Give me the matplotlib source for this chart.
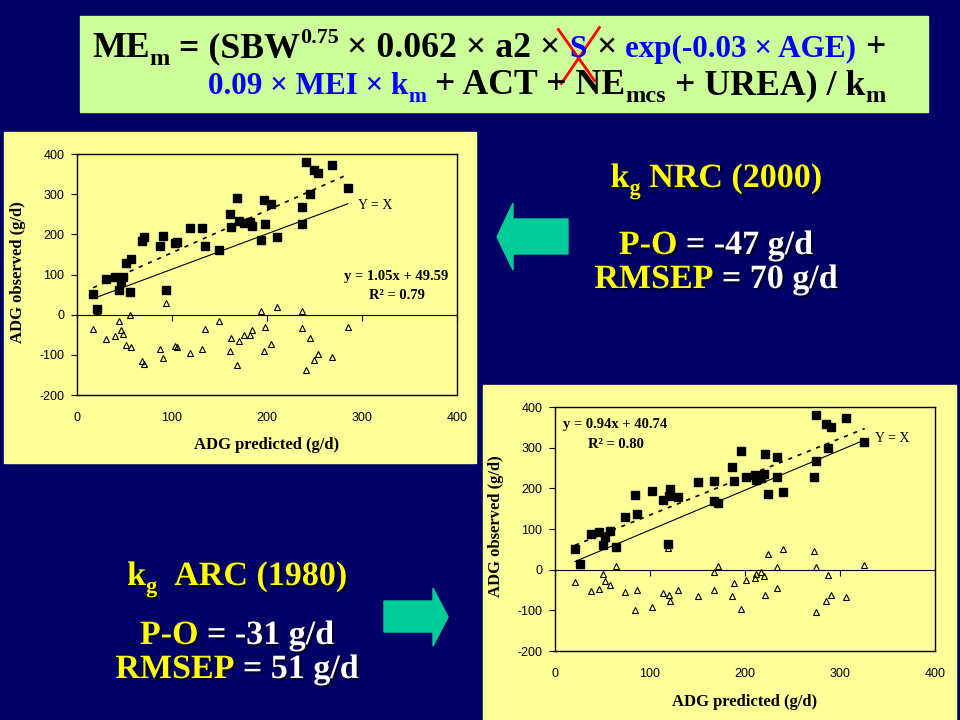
import matplotlib
matplotlib.use("Agg")
import matplotlib.pyplot as plt
import matplotlib.patheffects as pe
from matplotlib.patches import Rectangle, Polygon

plt.rcParams["axes.unicode_minus"] = False

W, H = 960, 720
NAVY = "#000066"
PANEL = "#FFFF99"
BOX = "#CCFF99"
ARROW = "#00CC99"
BLUE = "#0000FF"
YELLOW = "#FFFF00"
SERIF = ["Liberation Serif", "DejaVu Serif"]

# NRC (2000) panel: predicted ADG, observed ADG, predicted - observed (g/d)
nrc_pred = [17, 21, 31, 40, 44, 46, 48.5, 52, 57, 55.5, 68, 70, 87, 90, 94,
            103, 105, 119, 132, 135, 149, 161, 162, 168, 170, 176, 182, 184,
            194, 196.5, 198, 204.6, 211, 237, 237, 241, 245, 249.6, 254, 268, 285]
nrc_obs = [51, 13, 88, 93, 61, 81, 94, 129, 139, 56, 184, 194, 171, 197, 62,
           178, 182, 215, 217, 171, 162, 251, 218, 291, 234, 227, 230, 221,
           186, 286, 226, 276, 193, 269, 226, 379, 300, 361, 353, 373, 315]
nrc_diff = [-36, 8, -60, -54, -17, -38, -47, -76, -80, -2, -115, -124, -85, -108, 30,
            -77, -80, -95, -85, -35, -15, -90, -58, -125, -66, -51, -51, -39,
            8, -90, -30, -72, 18, -32, 10, -139, -57, -112, -98, -105, -30]
nrc_fit_x = [17, 285]
nrc_fit_y = [67, 349]
nrc_yx_x = [17, 285]
nrc_yx_y = [40, 276]

# ARC (1980) panel
arc_pred = [21, 26, 38, 46.7, 50, 53, 58, 64, 74, 84, 86, 102, 114, 119, 120,
            121, 129, 150, 167, 167, 171.6, 186.8, 188, 196, 201, 210.5, 212,
            217, 219.6, 221, 224, 234, 234, 240, 273, 274.4, 275, 285, 287,
            290, 306.7, 325.6]
arc_obs = [51.5, 15, 88, 93, 61, 81, 94, 56, 130, 183, 137, 194, 171, 63, 182,
           198, 179, 215, 170, 218, 164, 252, 218, 291, 227, 232, 221,
           225, 235, 285, 186, 277, 227, 192, 227, 380, 268, 359, 300,
           352, 372, 315]
arc_diff = [-30, 12, -52, -47, -11, -29, -37, 8, -56, -99, -49, -91, -57, 53, -63,
            -77, -50, -65, -6, -51, 8, -65, -32, -96, -25, -20, -10,
            -6, -16, -62, 38, -44, 6, 50, 47, -104, 6, -76, -13,
            -63, -66, 11]
arc_fit_x = [21, 326]
arc_fit_y = [60, 347]
arc_yx_x = [21, 326]
arc_yx_y = [20, 319]

x_ticks = [0, 100, 200, 300, 400]
y_ticks = [-200, -100, 0, 100, 200, 300, 400]

fig = plt.figure(figsize=(9.6, 7.2), dpi=100, facecolor=NAVY)
bg = fig.add_axes([0, 0, 1, 1])
bg.set_xlim(0, W)
bg.set_ylim(H, 0)
bg.axis("off")
renderer = fig.canvas.get_renderer()


def text_run(x, y, pieces, size, draw=True, effects=None):
    # pieces: (text, colour, size scale, rise in em); y is the baseline
    made = []
    for s, color, scale, rise in pieces:
        fs = size * scale
        space = 0.25 * fs * 100 / 72
        lead = len(s) - len(s.lstrip(" "))
        trail = len(s) - len(s.rstrip(" "))
        x += lead * space
        t = bg.text(x, y - rise * size * 100 / 72, s.strip(" "), fontsize=fs,
                    color=color, family=SERIF, weight="bold",
                    ha="left", va="baseline", path_effects=effects)
        x += t.get_window_extent(renderer).width + trail * space
        made.append(t)
    if not draw:
        for t in made:
            t.remove()
    return x, made


def centred_run(cx, y, pieces, size, effects=None):
    end, _ = text_run(0, y, pieces, size, draw=False)
    text_run(cx - end / 2, y, pieces, size, effects=effects)


# formula box
bg.add_patch(Rectangle((80, 16), 848, 96, color=BOX))
line1 = [("ME", "black", 1, 0), ("m", "black", 0.68, -0.22),
         (" = (SBW", "black", 1, 0), ("0.75", "black", 0.62, 0.38),
         (" × 0.062 × a2 × ", "black", 1, 0), ("S", BLUE, 0.87, 0),
         (" × ", "black", 1, 0), ("exp(-0.03 × AGE)", BLUE, 0.87, 0),
         (" +", "black", 1, 0)]
line2 = [("0.09 × MEI × k", BLUE, 0.87, 0), ("m", BLUE, 0.6, -0.22),
         (" + ACT + NE", "black", 1, 0), ("mcs", "black", 0.68, -0.22),
         (" + UREA) / k", "black", 1, 0), ("m", "black", 0.68, -0.22)]
w1 = text_run(0, 0, line1, 25, draw=False)[0]
w2 = text_run(0, 0, line2, 25, draw=False)[0]
fsize = 25 * min(796 / w1, 680 / w2)
_, parts = text_run(92, 57, line1, fsize)
text_run(208, 94, line2, fsize)

# red cross over S
sb = parts[5].get_window_extent(renderer)
cx, cy = (sb.x0 + sb.x1) / 2, H - (sb.y0 + sb.y1) / 2
bg.plot([cx - 20, cx + 16], [cy - 20, cy + 31], color="red", lw=2)
bg.plot([cx + 21, cx - 17], [cy - 22, cy + 34], color="red", lw=2)

# yellow chart panels
bg.add_patch(Rectangle((4, 132), 472, 331, color=PANEL))
bg.add_patch(Rectangle((483, 385), 473, 335, color=PANEL))

# arrows
bg.add_patch(Polygon([(497, 237), (513, 203), (513, 219), (568, 219),
                      (568, 254), (513, 254), (513, 270)], color=ARROW))
bg.add_patch(Polygon([(448, 617), (433, 588), (433, 601), (384, 601),
                      (384, 632), (433, 632), (433, 646)], color=ARROW))

# side texts
shadow = [pe.withSimplePatchShadow(offset=(1.5, -1.5), shadow_rgbFace="black", alpha=0.6)]
big = 24.5
centred_run(716, 187, [("k", YELLOW, 1, 0), ("g", YELLOW, 0.65, -0.22),
                       (" NRC (2000)", YELLOW, 1, 0)], big, shadow)
centred_run(716, 254, [("P-O", YELLOW, 1, 0), (" = -47 g/d", "white", 1, 0)], big, shadow)
centred_run(716, 288, [("RMSEP", YELLOW, 1, 0), (" = 70 g/d", "white", 1, 0)], big, shadow)
centred_run(237, 585, [("k", YELLOW, 1, 0), ("g", YELLOW, 0.65, -0.22),
                       ("  ARC (1980)", YELLOW, 1, 0)], big, shadow)
centred_run(237, 644, [("P-O", YELLOW, 1, 0), (" = -31 g/d", "white", 1, 0)], big, shadow)
centred_run(237, 678, [("RMSEP", YELLOW, 1, 0), (" = 51 g/d", "white", 1, 0)], big, shadow)


def scatter_panel(box, pred, obs, diff, fit_x, fit_y, yx_x, yx_y,
                  eq_text, r2_text, eq_at, r2_at, yx_at):
    left, top, right, bottom = box
    ax = fig.add_axes([left / W, 1 - bottom / H, (right - left) / W, (bottom - top) / H])
    ax.set_facecolor(PANEL)
    ax.plot(pred, diff, "^", mfc="none", mec="black", ms=4.5, mew=0.8)
    ax.plot(pred, obs, "s", color="black", ms=5.5)
    ax.plot(fit_x, fit_y, color="black", lw=1.2, ls=(0, (2.5, 3.5)))
    ax.plot(yx_x, yx_y, color="black", lw=0.8)
    ax.set_xlim(x_ticks[0], x_ticks[-1])
    ax.set_ylim(y_ticks[0], y_ticks[-1])
    ax.set_xticks(x_ticks)
    ax.set_yticks(y_ticks)
    ax.tick_params(axis="x", length=0, pad=12, labelsize=9, labelfontfamily="Liberation Sans")
    ax.tick_params(axis="y", direction="out", length=4, pad=5, labelsize=9,
                   labelfontfamily="Liberation Sans")
    for sp in ax.spines.values():
        sp.set_linewidth(1.0)
    zero = ax.secondary_xaxis((0 - y_ticks[0]) / (y_ticks[-1] - y_ticks[0]))
    zero.set_xticks(x_ticks)
    zero.tick_params(direction="out", length=4, width=0.8, labelbottom=False)
    ax.set_ylabel("ADG observed (g/d)", fontsize=12, fontweight="bold", family=SERIF,
                  va="center")
    ax.set_xlabel("ADG predicted (g/d)", fontsize=12, fontweight="bold", family=SERIF,
                  va="center")
    ax.yaxis.set_label_coords(-0.155, 0.51)
    ax.xaxis.set_label_coords(0.5, -0.207)
    ax.text(*eq_at, eq_text, ha="center", va="center", fontsize=10.5,
            fontweight="bold", family=SERIF)
    ax.text(*r2_at, r2_text, ha="center", va="center", fontsize=10.5,
            fontweight="bold", family=SERIF)
    ax.text(*yx_at, "Y = X", ha="left", va="center", fontsize=10, family=SERIF)
    return ax


scatter_panel((77, 154, 457, 395), nrc_pred, nrc_obs, nrc_diff,
              nrc_fit_x, nrc_fit_y, nrc_yx_x, nrc_yx_y,
              "y = 1.05x + 49.59", "R² = 0.79", (336, 96), (337, 47), (296, 271))
scatter_panel((555, 407, 935, 651), arc_pred, arc_obs, arc_diff,
              arc_fit_x, arc_fit_y, arc_yx_x, arc_yx_y,
              "y = 0.94x + 40.74", "R² = 0.80", (63, 357), (64, 308), (337, 323))

fig.savefig("out.png", dpi=100, facecolor=NAVY)
